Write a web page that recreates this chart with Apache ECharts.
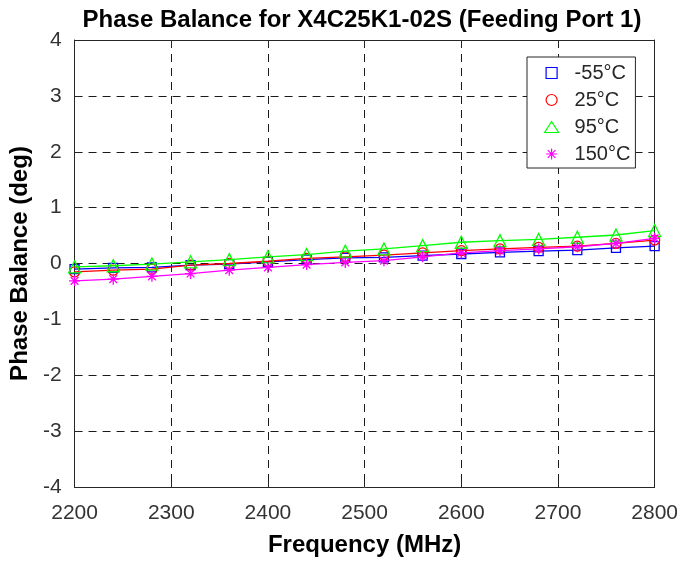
<!DOCTYPE html>
<html>
<head>
<meta charset="utf-8">
<script src="https://cdn.jsdelivr.net/npm/echarts@6/dist/echarts.min.js"></script>
<style>html,body{margin:0;padding:0;background:#fff}#c{width:681px;height:562px}</style>
</head>
<body>
<div id="c"></div>
<script>
const freqs = [2200, 2240, 2280, 2320, 2360, 2400, 2440, 2480, 2520, 2560, 2600, 2640, 2680, 2720, 2760, 2800];
const seriesNames = ['-55°C', '25°C', '95°C', '150°C'];
const valsM55 = [-0.10, -0.08, -0.07, -0.03, -0.01, 0.03, 0.07, 0.10, 0.11, 0.14, 0.17, 0.20, 0.22, 0.24, 0.28, 0.31];
const vals25  = [-0.15, -0.12, -0.10, -0.03, 0.00, 0.04, 0.09, 0.12, 0.15, 0.19, 0.23, 0.26, 0.29, 0.31, 0.36, 0.42];
const vals95  = [-0.06, -0.04, -0.01, 0.03, 0.07, 0.12, 0.16, 0.22, 0.26, 0.32, 0.38, 0.41, 0.43, 0.47, 0.51, 0.59];
const vals150 = [-0.31, -0.28, -0.23, -0.18, -0.12, -0.07, -0.02, 0.02, 0.05, 0.12, 0.19, 0.23, 0.26, 0.30, 0.36, 0.45];

const colors = ['#0000ff', '#ff0000', '#00ff00', '#ff00ff'];
const starPath = 'path://M50,0L50,100M0,50L100,50M15,15L85,85M15,85L85,15';
const symbols = ['rect', 'circle', 'triangle', starPath];
const symSizes = [9, 10, 12, 11];
const allVals = [valsM55, vals25, vals95, vals150];

const chart = echarts.init(document.getElementById('c'), null, {renderer: 'canvas'});
const font = 'Liberation Sans, Arial, Helvetica, sans-serif';
const dash = {type: [8, 6], color: '#1a1a1a', width: 1};
const axisLineStyle = {show: true, onZero: false, lineStyle: {color: '#262626', width: 1}};
const tickStyle = {show: true, inside: true, length: 6, lineStyle: {color: '#262626'}};

const series = allVals.map((v, i) => ({
  name: seriesNames[i],
  type: 'line',
  data: freqs.map((f, j) => [f, v[j]]),
  symbol: symbols[i],
  symbolSize: symSizes[i],
  showAllSymbol: true,
  lineStyle: {color: colors[i], width: 1.3},
  itemStyle: {color: 'transparent', borderColor: colors[i], borderWidth: 1.3},
  emphasis: {disabled: true},
  animation: false,
  z: 3 + i
}));

chart.setOption({
  animation: false,
  textStyle: {fontFamily: font},
  title: {
    text: 'Phase Balance for X4C25K1-02S (Feeding Port 1)',
    left: 357, top: 3, textAlign: 'center',
    textStyle: {fontSize: 24, fontWeight: 'bold', color: '#000', fontFamily: font}
  },
  grid: {left: 69, right: 26, top: 40, bottom: 70, containLabel: false},
  legend: {
    orient: 'vertical',
    left: 527, top: 57,
    padding: [6, 5, 4, 17],
    itemGap: 7,
    itemWidth: 14, itemHeight: 11,
    backgroundColor: '#fff',
    borderColor: '#262626', borderWidth: 1,
    textStyle: {fontSize: 20, color: '#262626', fontFamily: font, padding: [0, 0, 0, 11]},
    data: seriesNames.map((n, i) => ({
      name: n,
      icon: i === 0 ? 'path://M0,0L10,0L10,10L0,10Z' : symbols[i],
      itemStyle: {color: 'transparent', borderColor: colors[i], borderWidth: 1.2}
    }))
  },
  xAxis: [{
    type: 'value', min: 2200, max: 2800, interval: 100,
    position: 'bottom',
    name: 'Frequency (MHz)', nameLocation: 'middle', nameGap: 46,
    nameTextStyle: {fontSize: 24, fontWeight: 'bold', color: '#000', fontFamily: font},
    axisLine: axisLineStyle,
    axisTick: tickStyle,
    axisLabel: {fontSize: 21, color: '#333', margin: 16, fontFamily: font, formatter: v => String(v)},
    splitLine: {show: true, lineStyle: dash}
  }, {
    type: 'value', min: 2200, max: 2800, interval: 100,
    position: 'top',
    axisLine: axisLineStyle,
    axisTick: tickStyle,
    axisLabel: {show: false},
    splitLine: {show: false}
  }],
  yAxis: [{
    type: 'value', min: -4, max: 4, interval: 1,
    position: 'left',
    name: 'Phase Balance (deg)', nameLocation: 'middle', nameGap: 27, nameRotate: 90,
    nameTextStyle: {fontSize: 24, fontWeight: 'bold', color: '#000', fontFamily: font},
    axisLine: axisLineStyle,
    axisTick: tickStyle,
    axisLabel: {fontSize: 21, color: '#333', margin: 13, fontFamily: font},
    splitLine: {show: true, lineStyle: dash}
  }, {
    type: 'value', min: -4, max: 4, interval: 1,
    position: 'right',
    axisLine: axisLineStyle,
    axisTick: tickStyle,
    axisLabel: {show: false},
    splitLine: {show: false}
  }],
  series: series
});
</script>
</body>
</html>
